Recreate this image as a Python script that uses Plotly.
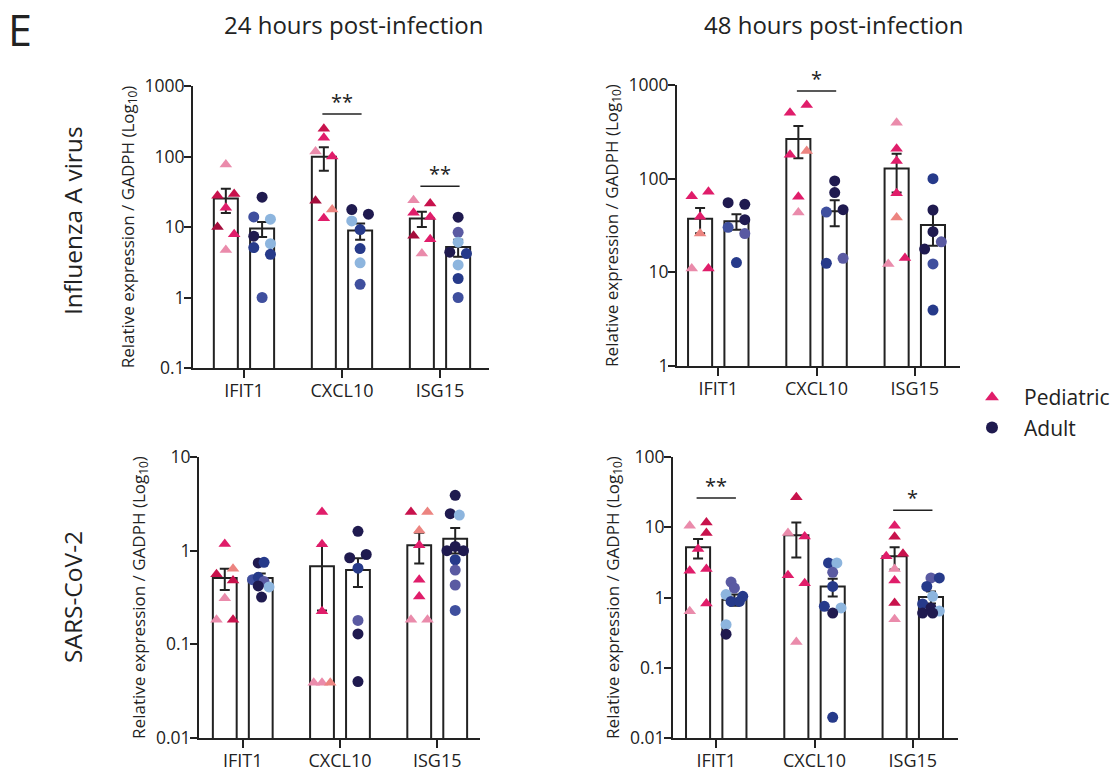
import numpy as np
import plotly.graph_objects as go

genes = ["IFIT1", "CXCL10", "ISG15"]
col_titles = ["24 hours post-infection", "48 hours post-infection"]
row_titles = ["Influenza A virus", "SARS-CoV-2"]
groups = ["Pediatric", "Adult"]

# donor colours
LP = "#ea8bab"; SA = "#ec8480"; HP = "#e01d6a"; CR = "#c8124c"; DR = "#a50d3c"
DN = "#1f1a4f"; NV = "#263a8a"; SL = "#5a5aa2"; MB = "#3f4f9e"; LB = "#8db5de"

# ---------------- Influenza A, 24 h ----------------
iav24_ped_vals = [[77, 27.7, 29.5, 18.7, 10, 7.9, 4.7],
                  [248, 185, 118, 100, 23.5, 17.7, 13.3],
                  [24, 21.6, 15.9, 13.9, 7.5, 6.7, 4.2]]
iav24_ped_cols = [[LP, CR, CR, HP, DR, HP, LP],
                  [CR, HP, LP, HP, DR, SA, HP],
                  [LP, CR, HP, HP, DR, HP, LP]]
iav24_ped_slots = [[0, -1, 1, 0, -1, 1, 0],
                   [0, 0, -1, 1, -1, 1, 0],
                   [-1, 1, -1, 1, -1, 1, 0]]
iav24_ad_vals = [[26.5, 13.9, 12.9, 7.4, 5.1, 5.8, 4.1, 1.0],
                 [17.7, 15.2, 12.2, 9.2, 4.95, 3.1, 1.54],
                 [13.8, 8.4, 6.1, 4.4, 4.2, 2.9, 1.86, 1.0]]
iav24_ad_cols = [[DN, MB, LB, DN, NV, LB, NV, MB],
                 [DN, DN, LB, NV, NV, LB, MB],
                 [DN, SL, LB, DN, NV, LB, NV, MB]]
iav24_ad_slots = [[0, -1, 1, -1, -1, 1, 1, 0],
                  [-1, 1, -1, 0, 0, 0, 0],
                  [0, 0, 0, -1, 1, 0, 0, 0]]
iav24_ped_mean = [25.4, 99, 13.2]
iav24_ped_sem = [9.6, 36, 3.2]
iav24_ad_mean = [9.5, 8.9, 5.2]
iav24_ad_sem = [2.3, 2.3, 1.4]
iav24_sig = [(1, "**", 400), (2, "**", 38)]

# ---------------- Influenza A, 48 h ----------------
iav48_ped_vals = [[65, 72.6, 39.3, 26, 11, 11],
                  [611, 507, 197, 180, 64, 43.4],
                  [396, 209, 154, 70, 38.4, 12.3, 14.2]]
iav48_ped_cols = [[HP, HP, HP, SA, LP, HP],
                  [HP, HP, SA, HP, HP, LP],
                  [LP, HP, HP, HP, SA, LP, HP]]
iav48_ped_slots = [[-1, 1, 0, 0, -1, 1],
                   [1, -1, 1, -1, 0, 0],
                   [0, 0, 0, 0, 0, -1, 1]]
iav48_ad_vals = [[55.4, 53.2, 30.2, 36.5, 25.9, 12.7],
                 [94.5, 71, 44, 46.7, 12.5, 14.1],
                 [100, 46.3, 27.2, 17.7, 21.2, 12.3, 3.96]]
iav48_ad_cols = [[DN, DN, MB, DN, SL, NV],
                 [DN, DN, MB, DN, NV, SL],
                 [NV, DN, DN, DN, SL, MB, NV]]
iav48_ad_slots = [[-1, 1, -1, 1, 1, 0],
                  [0, 0, -1, 1, -1, 1],
                  [0, 0, 0, -1, 1, 0, 0]]
iav48_ped_mean = [37.4, 265, 128]
iav48_ped_sem = [11.2, 100, 57]
iav48_ad_mean = [35, 45, 32]
iav48_ad_sem = [6.6, 14, 12.8]
iav48_sig = [(1, "*", 863)]

# ---------------- SARS-CoV-2, 24 h ----------------
sars24_ped_vals = [[1.18, 0.56, 0.64, 0.48, 0.31, 0.183, 0.183],
                   [2.59, 1.17, 0.225, 0.039, 0.039, 0.039],
                   [2.59, 2.59, 1.64, 1.14, 0.49, 0.325, 0.183, 0.183]]
sars24_ped_cols = [[HP, CR, SA, CR, LP, LP, CR],
                   [HP, HP, HP, LP, LP, SA],
                   [CR, SA, SA, HP, HP, HP, LP, LP]]
sars24_ped_slots = [[0, -1, 1, 1, 0, -1, 1],
                    [0, 0, 0, -1, 0, 1],
                    [-1, 1, 0, 0, 0, 0, -1, 1]]
sars24_ad_vals = [[0.74, 0.75, 0.49, 0.52, 0.47, 0.41, 0.42, 0.32],
                  [1.61, 0.84, 0.91, 0.65, 0.18, 0.129, 0.04],
                  [3.9, 2.48, 2.4, 1.0, 1.11, 1.0, 0.8, 0.62, 0.43, 0.23]]
sars24_ad_cols = [[DN, NV, MB, NV, SL, LB, DN, DN],
                  [DN, DN, DN, NV, SL, DN, DN],
                  [DN, DN, LB, DN, DN, DN, NV, SL, SL, MB]]
sars24_ad_slots = [[-0.3, 0.4, -1, -0.3, 0.4, 1, -0.3, 0.1],
                   [0, -1, 1, 0, 0, 0, 0],
                   [0, -0.6, 0.5, -1, 0, 1, 0, 0, 0, 0]]
sars24_ped_mean = [0.51, 0.68, 1.14]
sars24_ped_sem = [0.13, 0.45, 0.41]
sars24_ad_mean = [0.51, 0.62, 1.34]
sars24_ad_sem = [0.06, 0.21, 0.41]
sars24_sig = []

# ---------------- SARS-CoV-2, 48 h ----------------
sars48_ped_vals = [[10.5, 11.7, 8.3, 4.9, 2.4, 2.55, 0.635, 0.82],
                   [26.7, 8.3, 7.4, 2.07, 1.6, 0.233],
                   [10.5, 7.3, 3.85, 4.2, 2.55, 1.74, 0.835, 0.49]]
sars48_ped_cols = [[LP, CR, CR, HP, HP, HP, LP, HP],
                   [CR, LP, HP, HP, HP, LP],
                   [HP, CR, HP, CR, LP, HP, CR, LP]]
sars48_ped_slots = [[-1, 1, 1, 0, -1, 1, -1, 1],
                    [0, -1, 1, -1, 1, 0],
                    [0, 0, -1, 1, 0, 0, 0, 0]]
sars48_ad_vals = [[1.66, 1.1, 1.36, 1.04, 0.88, 0.88, 0.41, 0.30],
                  [3.1, 3.1, 2.28, 1.44, 0.75, 0.71, 0.6, 0.0197],
                  [1.9, 1.9, 1.44, 1.04, 0.81, 0.6, 0.71, 0.64, 0.6]]
sars48_ad_cols = [[SL, LB, SL, NV, NV, NV, LB, DN],
                  [NV, LB, SL, NV, NV, LB, DN, NV],
                  [SL, NV, NV, LB, NV, DN, DN, LB, DN]]
sars48_ad_slots = [[-0.4, -1, 0, 1, -0.4, 0.6, -1, -1],
                   [-0.5, 0.5, 0, 0, -1, 1, 0, 0],
                   [0, 1, -0.5, 0.2, -1, -1, 0, 1, 0.2]]
sars48_ped_mean = [5.2, 7.7, 3.85]
sars48_ped_sem = [1.6, 4.0, 1.35]
sars48_ad_mean = [0.93, 1.44, 1.02]
sars48_ad_sem = [0.17, 0.41, 0.2]
sars48_sig = [(0, "**", 26), (2, "*", 17.4)]

# axis tick sets
iav24_ticks = [0.1, 1, 10, 100, 1000]
iav48_ticks = [1, 10, 100, 1000]
sars24_ticks = [0.01, 0.1, 1, 10]
sars48_ticks = [0.01, 0.1, 1, 10, 100]

# ---------------- layout constants ----------------
W, H = 1114, 774
FONT = "Open Sans"
INK = "#222222"
GROUP_OFF = 0.185
BAR_W = 0.245
SLOT = 0.085

panels = [
    dict(ped=(iav24_ped_vals, iav24_ped_cols, iav24_ped_slots, iav24_ped_mean, iav24_ped_sem),
         ad=(iav24_ad_vals, iav24_ad_cols, iav24_ad_slots, iav24_ad_mean, iav24_ad_sem),
         sig=iav24_sig, ticks=iav24_ticks, px=(193, 489, 86, 368), xr=(-0.52, 2.5)),
    dict(ped=(iav48_ped_vals, iav48_ped_cols, iav48_ped_slots, iav48_ped_mean, iav48_ped_sem),
         ad=(iav48_ad_vals, iav48_ad_cols, iav48_ad_slots, iav48_ad_mean, iav48_ad_sem),
         sig=iav48_sig, ticks=iav48_ticks, px=(677, 960, 85, 366), xr=(-0.42, 2.46)),
    dict(ped=(sars24_ped_vals, sars24_ped_cols, sars24_ped_slots, sars24_ped_mean, sars24_ped_sem),
         ad=(sars24_ad_vals, sars24_ad_cols, sars24_ad_slots, sars24_ad_mean, sars24_ad_sem),
         sig=sars24_sig, ticks=sars24_ticks, px=(199, 480, 457, 738), xr=(-0.45, 2.44)),
    dict(ped=(sars48_ped_vals, sars48_ped_cols, sars48_ped_slots, sars48_ped_mean, sars48_ped_sem),
         ad=(sars48_ad_vals, sars48_ad_cols, sars48_ad_slots, sars48_ad_mean, sars48_ad_sem),
         sig=sars48_sig, ticks=sars48_ticks, px=(673, 958, 457, 738), xr=(-0.44, 2.46)),
]

fig = go.Figure()
layout = {}
shapes = []
annotations = []


def fmt(t):
    return "%g" % t


for i, p in enumerate(panels):
    n = "" if i == 0 else str(i + 1)
    xa, ya = "x" + n, "y" + n
    x0, x1, y0, y1 = p["px"]
    for key, off, sym in [("ped", -GROUP_OFF, "triangle-up"), ("ad", GROUP_OFF, "circle")]:
        vals, cols, slots, mean, sem = p[key]
        xs_bar = [g + off for g in range(len(genes))]
        fig.add_trace(go.Bar(
            x=xs_bar, y=mean, width=BAR_W, xaxis=xa, yaxis=ya,
            marker=dict(color="white", line=dict(color=INK, width=2)),
            error_y=dict(type="data", array=sem, visible=True, color=INK,
                         thickness=2, width=5),
            showlegend=False, hoverinfo="skip"))
        for g in range(len(genes)):
            xs = [g + off + s * SLOT for s in slots[g]]
            fig.add_trace(go.Scatter(
                x=xs, y=vals[g], mode="markers", xaxis=xa, yaxis=ya,
                marker=dict(symbol=sym, size=11, color=cols[g], line=dict(width=0)),
                showlegend=False, cliponaxis=False))
    lo, hi = np.log10(p["ticks"][0]), np.log10(p["ticks"][-1])
    layout["xaxis" + n] = dict(
        domain=[x0 / W, x1 / W], anchor=ya, range=list(p["xr"]), automargin=False,
        showline=True, linecolor=INK, linewidth=2, ticks="outside",
        ticklen=8, tickwidth=2, tickcolor=INK, ticklabelstandoff=-3,
        tickvals=[0, 1, 2], ticktext=genes, showgrid=False, zeroline=False,
        tickfont=dict(size=18, color=INK, family=FONT))
    layout["yaxis" + n] = dict(
        domain=[1 - y1 / H, 1 - y0 / H], anchor=xa, type="log", range=[lo, hi],
        automargin=False,
        showline=True, linecolor=INK, linewidth=2, ticks="outside",
        ticklen=7, tickwidth=2, tickcolor=INK, ticklabelstandoff=-4,
        tickvals=p["ticks"], ticktext=[fmt(t) for t in p["ticks"]],
        showgrid=False, zeroline=False,
        tickfont=dict(size=17.5, color=INK, family=FONT),
        title=dict(text="Relative expression / GADPH (Log<sub>10</sub>)",
                   font=dict(size=17, color=INK, family=FONT), standoff=6))
    for (g, txt, yv) in p["sig"]:
        shapes.append(dict(type="line", xref=xa, yref=ya,
                           x0=g - 0.2, x1=g + 0.2, y0=yv, y1=yv,
                           line=dict(color=INK, width=1.5)))
        annotations.append(dict(xref=xa, yref=ya, x=g, y=np.log10(yv), text=txt,
                                showarrow=False, yanchor="bottom", yshift=-3,
                                font=dict(size=20, color=INK, family=FONT)))

# legend entries
fig.add_trace(go.Scatter(x=[None], y=[None], mode="markers", name="Pediatric",
                         marker=dict(symbol="triangle-up", size=10, color=HP)))
fig.add_trace(go.Scatter(x=[None], y=[None], mode="markers", name="Adult",
                         marker=dict(symbol="circle", size=10, color=DN)))

# titles
for txt, cx in zip(col_titles, [353, 833]):
    annotations.append(dict(xref="paper", yref="paper", x=cx / W, y=1 - 25 / H, text=txt,
                            showarrow=False, xanchor="center", yanchor="middle",
                            font=dict(size=24, color=INK, family=FONT)))
for txt, cy in zip(row_titles, [221, 597]):
    annotations.append(dict(xref="paper", yref="paper", x=72 / W, y=1 - cy / H, text=txt,
                            showarrow=False, textangle=-90, xanchor="center", yanchor="middle",
                            font=dict(size=24.5, color=INK, family=FONT)))
annotations.append(dict(xref="paper", yref="paper", x=6 / W, y=1 - 30 / H, text="E",
                        showarrow=False, xanchor="left", yanchor="middle",
                        font=dict(size=43, color=INK, family=FONT)))

fig.update_layout(
    width=W, height=H, margin=dict(l=0, r=0, t=0, b=0, autoexpand=False),
    paper_bgcolor="white", plot_bgcolor="white",
    font=dict(family=FONT, color=INK),
    shapes=shapes, annotations=annotations,
    showlegend=True,
    legend=dict(x=960 / W, y=1 - 377 / H, xanchor="left", yanchor="top",
                font=dict(size=21, color=INK, family=FONT), itemwidth=54,
                bgcolor="rgba(0,0,0,0)", itemsizing="constant", tracegroupgap=0),
    barmode="overlay",
    **layout)

post = ("document.documentElement.style.overflow='hidden';"
        "document.body.style.margin='0px';document.body.style.overflow='hidden';"
        "var gd=document.getElementById('{plot_id}');"
        "gd.style.position='fixed';gd.style.left='0px';gd.style.top='0px';")
fig.write_html("out.html", config={"displayModeBar": False}, post_script=post)
